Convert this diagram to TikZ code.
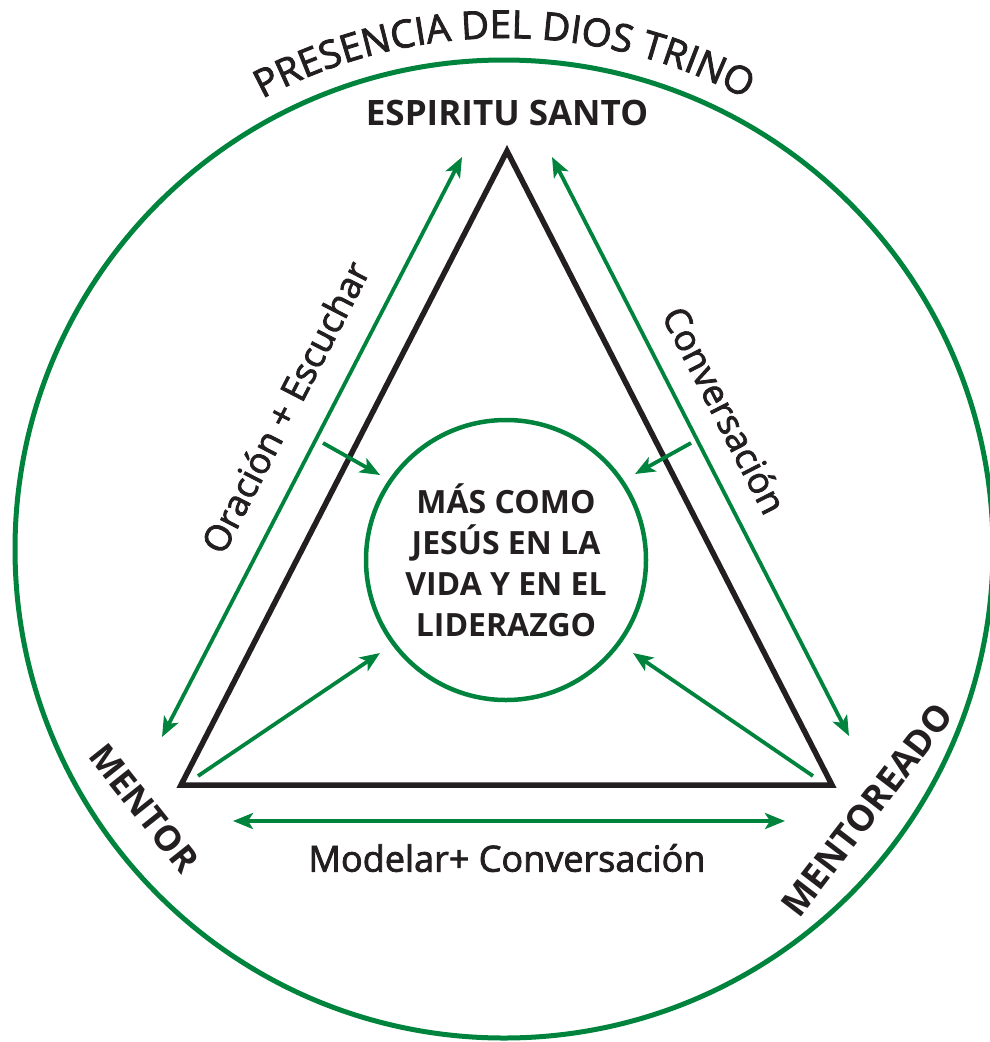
\documentclass[tikz,border=0pt]{standalone}
\usepackage{fontspec}
\setmainfont{Open Sans}
\newfontfamily\regfont[FakeBold=2.2]{Open Sans}
\usetikzlibrary{arrows.meta,decorations.text}
\definecolor{dgreen}{HTML}{00843D}
\definecolor{dblack}{HTML}{231F20}
\newcommand\titlefnt{\regfont\fontsize{38.5pt}{38.5pt}\selectfont}
\begin{document}
\begin{tikzpicture}[x=1pt,y=1pt,
  tri/.style={draw=dblack, line width=5.5pt, line join=miter},
  ring/.style={circle, draw=dgreen, line width=5pt, inner sep=0pt},
  tipg/.tip={Stealth[length=20pt,width=16pt,inset=5pt]},
  garrow/.style={draw=dgreen, line width=3.8pt, -tipg},
  gdouble/.style={draw=dgreen, line width=3.8pt, tipg-tipg},
  boldlbl/.style={text=dblack, font=\bfseries\fontsize{35pt}{35pt}\selectfont, inner sep=0pt},
  reglbl/.style={text=dblack, font=\regfont\fontsize{36pt}{36pt}\selectfont, inner sep=0pt},
  corelbl/.style={text=dblack, align=center, font=\bfseries\fontsize{32pt}{41pt}\selectfont},
]
\useasboundingbox (0,0) rectangle (989,-1042);
% outer circle
\node[ring, minimum size=978pt] (outer) at (504,-549) {};
% title on arc
\path[decorate, decoration={text along path, text align=center,
  text={|\titlefnt\color{dblack}|PRESENCIA DEL DIOS TRINO}}]
  (504,-549) ++(123:511) arc[start angle=123, end angle=57, radius=511];
% triangle
\coordinate (apex) at (507,-151);
\coordinate (bl) at (181,-785);
\coordinate (br) at (832,-785);
\draw[tri] (apex) -- (bl) -- (br) -- cycle;
% inner circle
\node[ring, line width=4.5pt, minimum size=280pt, corelbl] (core) at (506,-560)
  {MÁS COMO\\JESÚS EN LA\\VIDA Y EN EL\\LIDERAZGO};
% labels
\node[boldlbl, anchor=base] (es) at (507,-125) {ESPIRITU SANTO};
\node[boldlbl, rotate=-51.5] (mentor) at (144,-808) {MENTOR};
\node[boldlbl, rotate=52.5, font=\bfseries\fontsize{36pt}{36pt}\selectfont] (mentoreado) at (867,-810) {MENTOREADO};
\node[reglbl, rotate=62.7] (oracion) at (285,-407) {Oración + Escuchar};
\node[reglbl, rotate=-62.8] (conv) at (725,-410) {Conversación};
\node[reglbl] (modelar) at (507,-858) {Modelar+ Conversación};
% arrow end points
\coordinate (l1) at (162,-737);
\coordinate (l2) at (462,-157);
\coordinate (r1) at (552,-157);
\coordinate (r2) at (849,-736);
\coordinate (b1) at (233,-821);
\coordinate (b2) at (785,-821);
\coordinate (s1a) at (323,-443);
\coordinate (s1b) at (380,-475);
\coordinate (s2a) at (691,-443);
\coordinate (s2b) at (635,-474);
\coordinate (s3a) at (198,-776);
\coordinate (s3b) at (380,-653);
\coordinate (s4a) at (813,-776);
\coordinate (s4b) at (633,-653);
\draw[gdouble] (l1) -- (l2);
\draw[gdouble] (r1) -- (r2);
\draw[gdouble] (b1) -- (b2);
\draw[garrow] (s1a) -- (s1b);
\draw[garrow] (s2a) -- (s2b);
\draw[garrow] (s3a) -- (s3b);
\draw[garrow] (s4a) -- (s4b);
\end{tikzpicture}
\end{document}
